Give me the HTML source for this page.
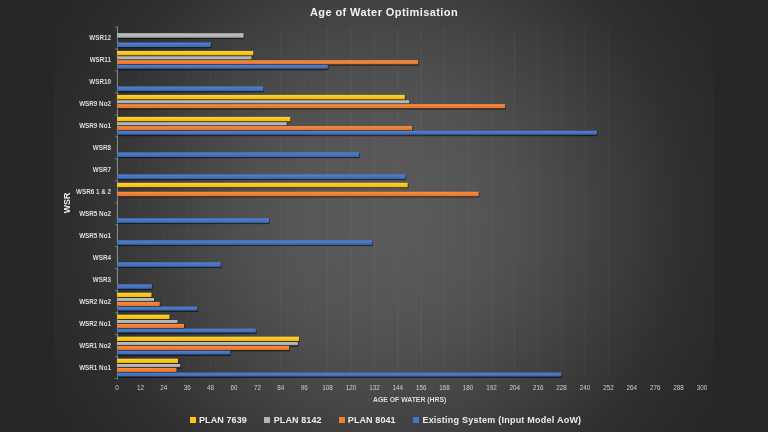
<!DOCTYPE html>
<html><head><meta charset="utf-8"><title>Age of Water Optimisation</title>
<style>
html,body{margin:0;padding:0}
body{width:768px;height:432px;overflow:hidden;background:#272727;font-family:"Liberation Sans",sans-serif;position:relative}
#chart{position:absolute;left:54px;top:0;width:660px;height:432px;
 background:radial-gradient(circle 394px at 330px 216px,#5a5a5a 0,#595959 40px,#555555 96px,#4f4f4f 142px,#464646 190px,#3d3d3d 236px,#373737 264px,#333333 284px,#2f2f2f 306px,#2a2a2a 353px,#262626 394px)}
#wrap{position:absolute;left:0;top:0;width:768px;height:432px;will-change:transform}
.t{position:absolute;white-space:nowrap;line-height:1}
#title{left:0;width:768px;text-align:center;top:6.6px;font-size:11px;font-weight:bold;color:#f2f2f2;letter-spacing:0.42px}
.cl{right:657px;font-size:6.3px;font-weight:bold;color:#dcdcdc;text-align:right}
.xl{width:24px;text-align:center;font-size:6.3px;color:#cfcfcf;top:385.4px}
#xt{left:373px;top:397.1px;font-size:6.85px;font-weight:bold;color:#dcdcdc}
#yt{left:66.9px;top:202.8px;font-size:9.7px;font-weight:bold;color:#ececec;transform:translate(-50%,-50%) rotate(-90deg) scaleX(0.91)}
#plot{position:absolute;left:0;top:0}
.lg{font-size:9px;font-weight:bold;color:#ececec;top:415.6px}
.sq{position:absolute;top:417.2px;width:6px;height:6px}
</style></head><body>
<div id="chart"></div>
<div id="wrap">
<div class="t" id="title">Age of Water Optimisation</div>
<div class="t" id="yt">WSR</div>
<svg id="plot" width="768" height="432" viewBox="0 0 768 432">
<defs>
<linearGradient id="gy" x1="0" y1="0" x2="0" y2="1"><stop offset="0" stop-color="#ffd53c"/><stop offset="0.45" stop-color="#f9c81c"/><stop offset="1" stop-color="#eeb808"/></linearGradient>
<linearGradient id="gg" x1="0" y1="0" x2="0" y2="1"><stop offset="0" stop-color="#c6c8c8"/><stop offset="0.45" stop-color="#b6b8b8"/><stop offset="1" stop-color="#a6a8a8"/></linearGradient>
<linearGradient id="go" x1="0" y1="0" x2="0" y2="1"><stop offset="0" stop-color="#f7904a"/><stop offset="0.45" stop-color="#f08236"/><stop offset="1" stop-color="#e27226"/></linearGradient>
<linearGradient id="gu" x1="0" y1="0" x2="0" y2="1"><stop offset="0" stop-color="#5882cc"/><stop offset="0.45" stop-color="#4676c4"/><stop offset="1" stop-color="#3c69b6"/></linearGradient>
</defs>
<g fill="#ffffff">
<rect x="139.9" y="27" width="1" height="351" fill-opacity="0.029"/><rect x="163.3" y="27" width="1" height="351" fill-opacity="0.031"/><rect x="186.7" y="27" width="1" height="351" fill-opacity="0.034"/><rect x="210.1" y="27" width="1" height="351" fill-opacity="0.036"/><rect x="233.5" y="27" width="1" height="351" fill-opacity="0.038"/><rect x="256.9" y="27" width="1" height="351" fill-opacity="0.040"/><rect x="280.3" y="27" width="1" height="351" fill-opacity="0.042"/><rect x="303.7" y="27" width="1" height="351" fill-opacity="0.044"/><rect x="327.1" y="27" width="1" height="351" fill-opacity="0.047"/><rect x="350.5" y="27" width="1" height="351" fill-opacity="0.049"/><rect x="373.9" y="27" width="1" height="351" fill-opacity="0.051"/><rect x="397.3" y="27" width="1" height="351" fill-opacity="0.051"/><rect x="420.7" y="27" width="1" height="351" fill-opacity="0.049"/><rect x="444.1" y="27" width="1" height="351" fill-opacity="0.046"/><rect x="467.5" y="27" width="1" height="351" fill-opacity="0.044"/><rect x="490.9" y="27" width="1" height="351" fill-opacity="0.042"/><rect x="514.3" y="27" width="1" height="351" fill-opacity="0.040"/><rect x="537.7" y="27" width="1" height="351" fill-opacity="0.038"/><rect x="561.1" y="27" width="1" height="351" fill-opacity="0.035"/><rect x="584.5" y="27" width="1" height="351" fill-opacity="0.033"/><rect x="607.9" y="27" width="1" height="351" fill-opacity="0.031"/><rect x="631.3" y="27" width="1" height="351" fill-opacity="0.029"/><rect x="654.7" y="27" width="1" height="351" fill-opacity="0.027"/><rect x="678.1" y="27" width="1" height="351" fill-opacity="0.024"/><rect x="701.5" y="27" width="1" height="351" fill-opacity="0.022"/>
</g>
<g fill="#a6a6a6">
<rect x="114.7" y="26.50" width="2.4" height="0.9" opacity="0.55"/><rect x="114.7" y="48.48" width="2.4" height="0.9" opacity="0.55"/><rect x="114.7" y="70.46" width="2.4" height="0.9" opacity="0.55"/><rect x="114.7" y="92.44" width="2.4" height="0.9" opacity="0.55"/><rect x="114.7" y="114.42" width="2.4" height="0.9" opacity="0.55"/><rect x="114.7" y="136.40" width="2.4" height="0.9" opacity="0.55"/><rect x="114.7" y="158.38" width="2.4" height="0.9" opacity="0.55"/><rect x="114.7" y="180.36" width="2.4" height="0.9" opacity="0.55"/><rect x="114.7" y="202.34" width="2.4" height="0.9" opacity="0.55"/><rect x="114.7" y="224.32" width="2.4" height="0.9" opacity="0.55"/><rect x="114.7" y="246.30" width="2.4" height="0.9" opacity="0.55"/><rect x="114.7" y="268.28" width="2.4" height="0.9" opacity="0.55"/><rect x="114.7" y="290.26" width="2.4" height="0.9" opacity="0.55"/><rect x="114.7" y="312.24" width="2.4" height="0.9" opacity="0.55"/><rect x="114.7" y="334.22" width="2.4" height="0.9" opacity="0.55"/><rect x="114.7" y="356.20" width="2.4" height="0.9" opacity="0.55"/><rect x="114.7" y="378.18" width="2.4" height="0.9" opacity="0.55"/>
<rect x="116.95" y="26.5" width="0.85" height="352.6" fill="#9a9ea2"/>
</g>
<rect x="117.6" y="34.07" width="126.7" height="4.97" fill="#000" fill-opacity="0.52"/><rect x="117.6" y="43.31" width="93.9" height="4.97" fill="#000" fill-opacity="0.52"/><rect x="117.1" y="33.27" width="126.5" height="4.50" fill="url(#gg)"/><rect x="117.1" y="42.51" width="93.7" height="4.50" fill="url(#gu)"/>
<rect x="117.6" y="51.43" width="136.4" height="4.97" fill="#000" fill-opacity="0.52"/><rect x="117.6" y="56.05" width="134.7" height="4.97" fill="#000" fill-opacity="0.52"/><rect x="117.6" y="60.67" width="301.2" height="4.97" fill="#000" fill-opacity="0.52"/><rect x="117.6" y="65.29" width="210.9" height="4.97" fill="#000" fill-opacity="0.52"/><rect x="117.1" y="50.93" width="136.2" height="4.45" fill="url(#gy)"/><rect x="117.1" y="56.30" width="134.5" height="3.15" fill="url(#gg)"/><rect x="117.1" y="60.17" width="301.0" height="4.10" fill="url(#go)"/><rect x="117.1" y="64.89" width="210.7" height="3.85" fill="url(#gu)"/>
<rect x="117.6" y="87.27" width="146.5" height="4.97" fill="#000" fill-opacity="0.52"/><rect x="117.1" y="86.47" width="146.3" height="4.50" fill="url(#gu)"/>
<rect x="117.6" y="95.39" width="287.9" height="4.97" fill="#000" fill-opacity="0.52"/><rect x="117.6" y="100.01" width="292.4" height="4.97" fill="#000" fill-opacity="0.52"/><rect x="117.6" y="104.63" width="388.4" height="4.97" fill="#000" fill-opacity="0.52"/><rect x="117.1" y="94.89" width="287.7" height="4.45" fill="url(#gy)"/><rect x="117.1" y="100.26" width="292.2" height="3.15" fill="url(#gg)"/><rect x="117.1" y="104.13" width="388.1" height="4.10" fill="url(#go)"/>
<rect x="117.6" y="117.37" width="173.5" height="4.97" fill="#000" fill-opacity="0.52"/><rect x="117.6" y="121.99" width="169.8" height="4.97" fill="#000" fill-opacity="0.52"/><rect x="117.6" y="126.61" width="295.1" height="4.97" fill="#000" fill-opacity="0.52"/><rect x="117.6" y="131.23" width="480.0" height="4.97" fill="#000" fill-opacity="0.52"/><rect x="117.1" y="116.87" width="173.3" height="4.45" fill="url(#gy)"/><rect x="117.1" y="122.24" width="169.6" height="3.15" fill="url(#gg)"/><rect x="117.1" y="126.11" width="294.9" height="4.10" fill="url(#go)"/><rect x="117.1" y="130.83" width="479.8" height="3.85" fill="url(#gu)"/>
<rect x="117.6" y="153.21" width="242.1" height="4.97" fill="#000" fill-opacity="0.52"/><rect x="117.1" y="152.41" width="241.9" height="4.50" fill="url(#gu)"/>
<rect x="117.6" y="175.19" width="288.5" height="4.97" fill="#000" fill-opacity="0.52"/><rect x="117.1" y="174.39" width="288.3" height="4.50" fill="url(#gu)"/>
<rect x="117.6" y="183.31" width="290.9" height="4.97" fill="#000" fill-opacity="0.52"/><rect x="117.6" y="192.55" width="361.8" height="4.97" fill="#000" fill-opacity="0.52"/><rect x="117.1" y="182.81" width="290.6" height="4.45" fill="url(#gy)"/><rect x="117.1" y="191.75" width="361.6" height="4.50" fill="url(#go)"/>
<rect x="117.6" y="219.15" width="152.2" height="4.97" fill="#000" fill-opacity="0.52"/><rect x="117.1" y="218.35" width="152.0" height="4.50" fill="url(#gu)"/>
<rect x="117.6" y="241.13" width="255.4" height="4.97" fill="#000" fill-opacity="0.52"/><rect x="117.1" y="240.33" width="255.2" height="4.50" fill="url(#gu)"/>
<rect x="117.6" y="263.11" width="103.8" height="4.97" fill="#000" fill-opacity="0.52"/><rect x="117.1" y="262.31" width="103.6" height="4.50" fill="url(#gu)"/>
<rect x="117.6" y="285.09" width="35.0" height="4.97" fill="#000" fill-opacity="0.52"/><rect x="117.1" y="284.29" width="34.8" height="4.50" fill="url(#gu)"/>
<rect x="117.6" y="293.21" width="34.6" height="4.97" fill="#000" fill-opacity="0.52"/><rect x="117.6" y="297.83" width="37.2" height="4.97" fill="#000" fill-opacity="0.52"/><rect x="117.6" y="302.45" width="42.8" height="4.97" fill="#000" fill-opacity="0.52"/><rect x="117.6" y="307.07" width="80.4" height="4.97" fill="#000" fill-opacity="0.52"/><rect x="117.1" y="292.71" width="34.4" height="4.45" fill="url(#gy)"/><rect x="117.1" y="298.08" width="37.0" height="3.15" fill="url(#gg)"/><rect x="117.1" y="301.95" width="42.6" height="4.10" fill="url(#go)"/><rect x="117.1" y="306.67" width="80.2" height="3.85" fill="url(#gu)"/>
<rect x="117.6" y="315.19" width="52.6" height="4.97" fill="#000" fill-opacity="0.52"/><rect x="117.6" y="319.81" width="60.6" height="4.97" fill="#000" fill-opacity="0.52"/><rect x="117.6" y="324.43" width="67.2" height="4.97" fill="#000" fill-opacity="0.52"/><rect x="117.6" y="329.05" width="138.9" height="4.97" fill="#000" fill-opacity="0.52"/><rect x="117.1" y="314.69" width="52.4" height="4.45" fill="url(#gy)"/><rect x="117.1" y="320.06" width="60.4" height="3.15" fill="url(#gg)"/><rect x="117.1" y="323.93" width="67.0" height="4.10" fill="url(#go)"/><rect x="117.1" y="328.65" width="138.7" height="3.85" fill="url(#gu)"/>
<rect x="117.6" y="337.17" width="182.2" height="4.97" fill="#000" fill-opacity="0.52"/><rect x="117.6" y="341.79" width="180.9" height="4.97" fill="#000" fill-opacity="0.52"/><rect x="117.6" y="346.41" width="172.3" height="4.97" fill="#000" fill-opacity="0.52"/><rect x="117.6" y="351.03" width="113.4" height="4.97" fill="#000" fill-opacity="0.52"/><rect x="117.1" y="336.67" width="182.0" height="4.45" fill="url(#gy)"/><rect x="117.1" y="342.04" width="180.7" height="3.15" fill="url(#gg)"/><rect x="117.1" y="345.91" width="172.1" height="4.10" fill="url(#go)"/><rect x="117.1" y="350.63" width="113.2" height="3.85" fill="url(#gu)"/>
<rect x="117.6" y="359.15" width="61.1" height="4.97" fill="#000" fill-opacity="0.52"/><rect x="117.6" y="363.77" width="63.3" height="4.97" fill="#000" fill-opacity="0.52"/><rect x="117.6" y="368.39" width="59.6" height="4.97" fill="#000" fill-opacity="0.52"/><rect x="117.6" y="373.01" width="444.5" height="4.97" fill="#000" fill-opacity="0.52"/><rect x="117.1" y="358.65" width="60.9" height="4.45" fill="url(#gy)"/><rect x="117.1" y="364.02" width="63.1" height="3.15" fill="url(#gg)"/><rect x="117.1" y="367.89" width="59.4" height="4.10" fill="url(#go)"/><rect x="117.1" y="372.61" width="444.3" height="3.85" fill="url(#gu)"/>
</svg>
<div class="t cl" style="top:35.44px">WSR12</div>
<div class="t cl" style="top:57.42px">WSR11</div>
<div class="t cl" style="top:79.40px">WSR10</div>
<div class="t cl" style="top:101.38px">WSR9 No2</div>
<div class="t cl" style="top:123.36px">WSR9 No1</div>
<div class="t cl" style="top:145.34px">WSR8</div>
<div class="t cl" style="top:167.32px">WSR7</div>
<div class="t cl" style="top:189.30px">WSR6 1 &amp; 2</div>
<div class="t cl" style="top:211.28px">WSR5 No2</div>
<div class="t cl" style="top:233.26px">WSR5 No1</div>
<div class="t cl" style="top:255.24px">WSR4</div>
<div class="t cl" style="top:277.22px">WSR3</div>
<div class="t cl" style="top:299.20px">WSR2 No2</div>
<div class="t cl" style="top:321.18px">WSR2 No1</div>
<div class="t cl" style="top:343.16px">WSR1 No2</div>
<div class="t cl" style="top:365.14px">WSR1 No1</div>
<div class="t xl" style="left:105.0px">0</div><div class="t xl" style="left:128.4px">12</div><div class="t xl" style="left:151.8px">24</div><div class="t xl" style="left:175.2px">36</div><div class="t xl" style="left:198.6px">48</div><div class="t xl" style="left:222.0px">60</div><div class="t xl" style="left:245.4px">72</div><div class="t xl" style="left:268.8px">84</div><div class="t xl" style="left:292.2px">96</div><div class="t xl" style="left:315.6px">108</div><div class="t xl" style="left:339.0px">120</div><div class="t xl" style="left:362.4px">132</div><div class="t xl" style="left:385.8px">144</div><div class="t xl" style="left:409.2px">156</div><div class="t xl" style="left:432.6px">168</div><div class="t xl" style="left:456.0px">180</div><div class="t xl" style="left:479.4px">192</div><div class="t xl" style="left:502.8px">204</div><div class="t xl" style="left:526.2px">216</div><div class="t xl" style="left:549.6px">228</div><div class="t xl" style="left:573.0px">240</div><div class="t xl" style="left:596.4px">252</div><div class="t xl" style="left:619.8px">264</div><div class="t xl" style="left:643.2px">276</div><div class="t xl" style="left:666.6px">288</div><div class="t xl" style="left:690.0px">300</div>
<div class="t" id="xt">AGE OF WATER (HRS)</div>
<div class="sq" style="left:190px;background:#ffc61a"></div><div class="t lg" style="left:199px;letter-spacing:0.1px">PLAN 7639</div>
<div class="sq" style="left:264.3px;background:#b4b4b4"></div><div class="t lg" style="left:273.7px;letter-spacing:0.1px">PLAN 8142</div>
<div class="sq" style="left:338.8px;background:#f07f31"></div><div class="t lg" style="left:347.8px;letter-spacing:0.1px">PLAN 8041</div>
<div class="sq" style="left:413.4px;background:#4674c6"></div><div class="t lg" style="left:422.4px;letter-spacing:0.236px">Existing System (Input Model AoW)</div>
</div>
</body></html>
